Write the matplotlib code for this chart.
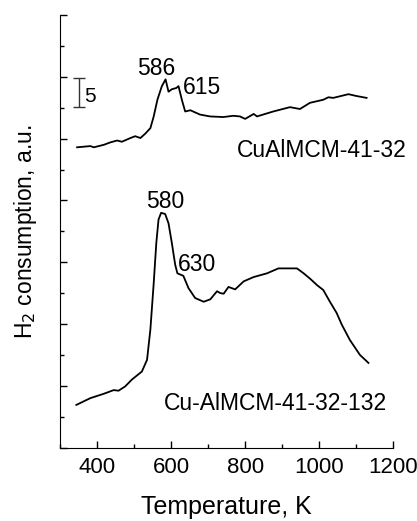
import matplotlib.pyplot as plt
from matplotlib.ticker import MultipleLocator

plt.rcParams['font.family'] = ['Liberation Sans', 'DejaVu Sans']

# CuAlMCM-41-32 (upper trace)
t_upper = [346, 382, 391, 418, 436, 454, 467, 490, 503, 517, 530, 544, 553, 563, 575,
           585, 593, 602, 614, 620, 629, 638, 652, 678, 705, 741, 768, 786, 800, 823,
           832, 876, 921, 948, 975, 1011, 1025, 1038, 1079, 1101, 1128]
h_upper = [48.6, 48.8, 48.6, 49.0, 49.4, 49.7, 49.5, 50.1, 50.4, 50.1, 50.8, 51.7, 53.6,
           56.3, 58.5, 59.6, 57.6, 58.0, 58.2, 58.5, 56.3, 54.4, 54.6, 53.9, 53.6, 53.5,
           53.7, 53.6, 53.2, 54.0, 53.6, 54.4, 55.1, 54.8, 55.8, 56.3, 56.7, 56.6, 57.2,
           56.9, 56.6]

# Cu-AlMCM-41-32-132 (lower trace)
t_lower = [344, 382, 418, 445, 458, 476, 494, 521, 535, 544, 553, 560, 566, 573, 584,
           593, 602, 611, 617, 633, 647, 665, 688, 706, 724, 733, 742, 755, 773, 796,
           823, 859, 890, 940, 958, 976, 994, 1011, 1029, 1047, 1061, 1083, 1110, 1133]
h_lower = [6.9, 8.0, 8.7, 9.3, 9.2, 9.9, 11.0, 12.3, 14.2, 19.1, 26.6, 33.1, 36.9, 38.0,
           37.8, 36.3, 33.1, 29.6, 28.2, 27.8, 25.8, 24.2, 23.6, 24.0, 25.3, 25.0, 24.9,
           26.0, 25.6, 26.9, 27.6, 28.2, 29.0, 29.0, 28.2, 27.3, 26.3, 25.5, 23.6, 21.8,
           19.9, 17.4, 15.0, 13.7]

fig = plt.figure(figsize=(4.17, 5.21), dpi=100)
ax = fig.add_axes([0.144, 0.141, 0.799, 0.830])

ax.plot(t_upper, h_upper, color='black', lw=1.3)
ax.plot(t_lower, h_lower, color='black', lw=1.3)

fs = 16.5
ax.text(559, 61.3, '586', ha='center', va='center', fontsize=fs)
ax.text(683, 58.3, '615', ha='center', va='center', fontsize=fs)
ax.text(1007, 48.1, 'CuAlMCM-41-32', ha='center', va='center', fontsize=fs)
ax.text(584, 39.8, '580', ha='center', va='center', fontsize=fs)
ax.text(669, 29.6, '630', ha='center', va='center', fontsize=fs)
ax.text(881, 7.2, 'Cu-AlMCM-41-32-132', ha='center', va='center', fontsize=fs)

# scale bar
ax.errorbar([351], [57.45], yerr=[2.3], color='#333333', lw=1, capsize=4, capthick=1)
ax.text(366, 56.9, '5', ha='left', va='center', fontsize=15)

ax.set_xlim(300, 1200)
ax.set_ylim(0, 70)
ax.xaxis.set_major_locator(MultipleLocator(200))
ax.xaxis.set_minor_locator(MultipleLocator(100))
ax.yaxis.set_major_locator(MultipleLocator(10))
ax.yaxis.set_minor_locator(MultipleLocator(5))
ax.set_xticks([400, 600, 800, 1000, 1200])
ax.tick_params(which='both', direction='in', width=1)
ax.tick_params(which='major', length=5)
ax.tick_params(which='minor', length=3)
ax.tick_params(axis='x', labelsize=16, pad=7)
ax.tick_params(axis='y', labelleft=False)
ax.spines['top'].set_visible(False)
ax.spines['right'].set_visible(False)

ax.set_xlabel('Temperature, K', fontsize=18, labelpad=12)
ax.set_ylabel('H$_2$ consumption, a.u.', fontsize=16.5, labelpad=12)

fig.savefig('out.png', dpi=100)
